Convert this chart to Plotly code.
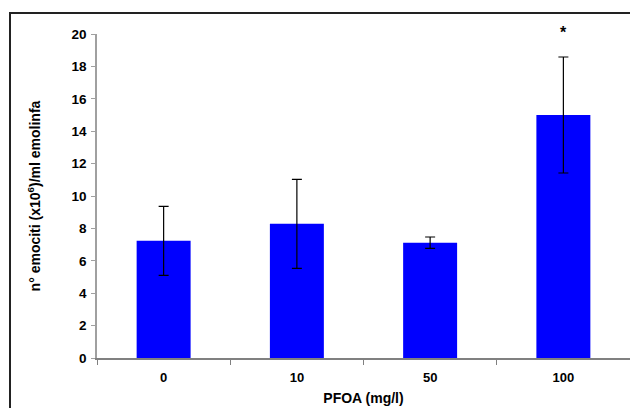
import plotly.graph_objects as go

categories = ["0", "10", "50", "100"]
values = [7.23, 8.28, 7.12, 15.0]
errors = [2.13, 2.75, 0.35, 3.58]
star_labels = ["", "", "", "*"]

W, H = 630, 408
L, R, T, B = 97, 0, 34, 50

fig = go.Figure()
fig.add_trace(go.Bar(
    x=categories, y=values,
    marker=dict(color="#0000FF", line=dict(width=0)),
    error_y=dict(type="data", array=errors, visible=True, color="black",
                 thickness=1.2, width=5),
    width=0.405,
))

for i, s in enumerate(star_labels):
    if s:
        fig.add_annotation(x=i, xref="x", y=1.0, yref="paper", text="<b>" + s + "</b>",
                           showarrow=False, yshift=2,
                           font=dict(family="Liberation Sans", size=16, color="black"),
                           yanchor="middle")

pw = W - L - R
ph = H - T - B
fig.add_shape(type="rect", xref="paper", yref="paper",
              x0=(10 - L) / pw, x1=(640 - L) / pw,
              y0=-(420 - T - ph) / ph, y1=1 + (T - 13) / ph,
              line=dict(color="#222222", width=2), layer="below")

fig.update_layout(
    width=W, height=H,
    margin=dict(l=L, r=R, t=T, b=B),
    paper_bgcolor="white", plot_bgcolor="white",
    showlegend=False,
    font=dict(family="Liberation Sans", color="black"),
    xaxis=dict(
        type="category", tickson="boundaries", ticks="outside", ticklen=5,
        tickcolor="#808080", showline=True, linecolor="#808080", linewidth=1.5,
        tickfont=dict(family="Liberation Sans", size=13, color="black", weight="bold"),
        ticklabelstandoff=7,
        title=dict(text="<b>PFOA (mg/l)</b>", font=dict(size=14), standoff=9),
        showgrid=False, range=[-0.5, 3.5],
    ),
    yaxis=dict(
        range=[0, 20], dtick=2, ticks="outside", ticklen=4, tickcolor="#a0a0a0",
        showline=True, linecolor="#a0a0a0", linewidth=1.5, showgrid=False,
        zeroline=False,
        tickfont=dict(family="Liberation Sans", size=13.5, color="black", weight="bold"),
        ticklabelstandoff=2,
        title=dict(text="<b>n° emociti (x10<sup>6</sup>)/ml emolinfa</b>", font=dict(size=14), standoff=28),
    ),
)

fig.write_html("out.html")
